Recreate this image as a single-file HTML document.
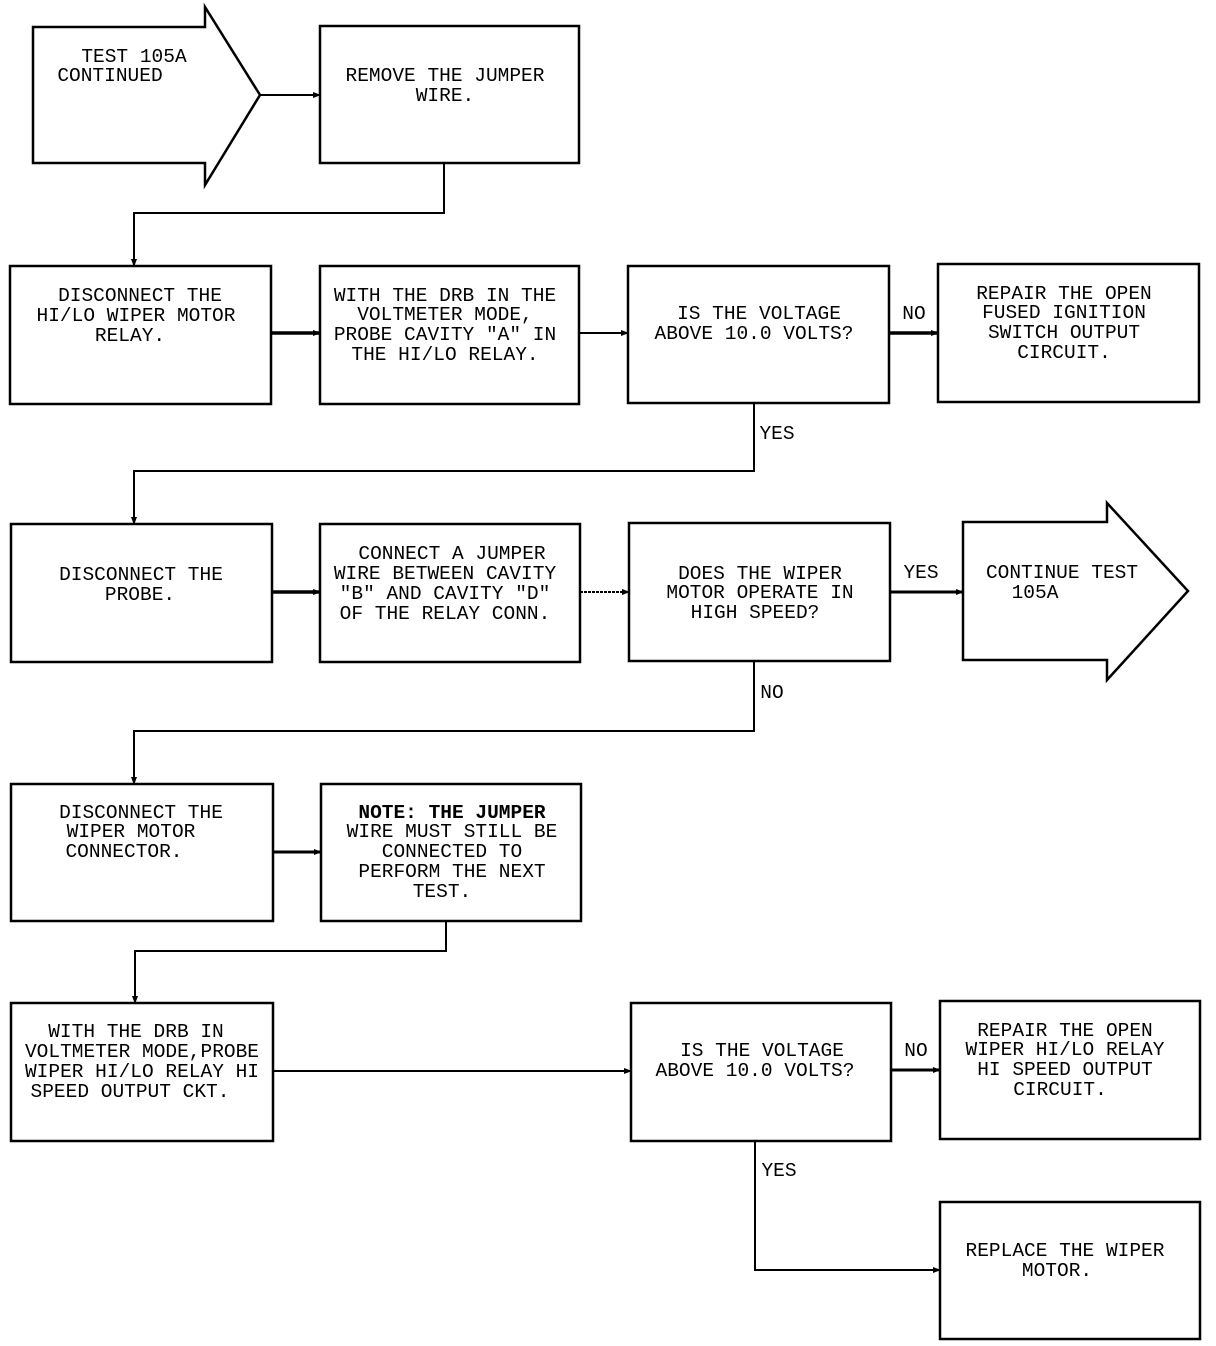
<!DOCTYPE html>
<html><head><meta charset="utf-8"><style>
html,body{margin:0;padding:0;background:#fff}
svg{display:block}
text{font-family:"Liberation Mono",monospace;font-size:19.5px;fill:#000;text-anchor:middle}
.l{text-anchor:start}
</style></head><body>
<svg width="1216" height="1346" viewBox="0 0 1216 1346" xmlns="http://www.w3.org/2000/svg">
<defs><marker id="a" markerWidth="8" markerHeight="8" refX="7" refY="4" orient="auto" markerUnits="userSpaceOnUse"><path d="M0,1 L8,4 L0,7 z" fill="#000"/></marker></defs>
<g fill="none" stroke="#000" stroke-width="2.5">
<path d="M33,27 H205 V7 L260,95 L205,185 V163 H33 Z"/>
<rect x="320" y="26" width="259" height="137"/>
<rect x="10" y="266" width="261" height="138"/>
<rect x="320" y="266" width="259" height="138"/>
<rect x="628" y="266" width="261" height="137"/>
<rect x="938" y="264" width="261" height="138"/>
<rect x="11" y="524" width="261" height="138"/>
<rect x="320" y="524" width="260" height="138"/>
<rect x="629" y="523" width="261" height="138"/>
<path d="M963,522 H1107 V503 L1188,591 L1107,680 V660 H963 Z"/>
<rect x="11" y="784" width="262" height="137"/>
<rect x="321" y="784" width="260" height="137"/>
<rect x="11" y="1003" width="262" height="138"/>
<rect x="631" y="1003" width="260" height="138"/>
<rect x="940" y="1001" width="260" height="138"/>
<rect x="940" y="1202" width="260" height="137"/>
</g>
<g fill="none" stroke="#000" stroke-width="2" marker-end="url(#a)">
<path d="M260,95 H320"/>
<path d="M444,163 V213 H134 V266"/>
<path d="M271,333 H320" stroke-width="3.5"/>
<path d="M579,333 H628"/>
<path d="M889,333 H938" stroke-width="3.5"/>
<path d="M754,404 V471 H134 V524"/>
<path d="M272,592 H320" stroke-width="3.5"/>
<path d="M580,592 H629" stroke-dasharray="3,1"/>
<path d="M890,592 H963" stroke-width="3"/>
<path d="M754,662 V731 H134 V784"/>
<path d="M273,852 H321" stroke-width="3"/>
<path d="M446,921 V951 H135 V1003"/>
<path d="M273,1071 H631"/>
<path d="M891,1070 H940" stroke-width="3"/>
<path d="M755,1141 V1270 H940"/>
</g>
<text x="134" y="62">TEST 105A</text>
<text x="110" y="81">CONTINUED</text>
<text x="445" y="81">REMOVE THE JUMPER</text>
<text x="445" y="101">WIRE.</text>
<text x="140" y="301">DISCONNECT THE</text>
<text x="136" y="321">HI/LO WIPER MOTOR</text>
<text x="130" y="341">RELAY.</text>
<text x="445" y="301">WITH THE DRB IN THE</text>
<text x="445" y="320">VOLTMETER MODE,</text>
<text x="445" y="340">PROBE CAVITY "A" IN</text>
<text x="445" y="360">THE HI/LO RELAY.</text>
<text x="759" y="319">IS THE VOLTAGE</text>
<text x="754" y="339">ABOVE 10.0 VOLTS?</text>
<text x="1064" y="299">REPAIR THE OPEN</text>
<text x="1064" y="318">FUSED IGNITION</text>
<text x="1064" y="338">SWITCH OUTPUT</text>
<text x="1064" y="358">CIRCUIT.</text>
<text x="914" y="319">NO</text>
<text x="777" y="439">YES</text>
<text x="141" y="580">DISCONNECT THE</text>
<text x="140" y="600">PROBE.</text>
<text x="452" y="559">CONNECT A JUMPER</text>
<text x="445" y="579">WIRE BETWEEN CAVITY</text>
<text x="445" y="599">"B" AND CAVITY "D"</text>
<text x="445" y="619">OF THE RELAY CONN.</text>
<text x="760" y="579">DOES THE WIPER</text>
<text x="760" y="598">MOTOR OPERATE IN</text>
<text x="755" y="618">HIGH SPEED?</text>
<text x="1062" y="578">CONTINUE TEST</text>
<text x="1035" y="598">105A</text>
<text x="921" y="578">YES</text>
<text x="772" y="698">NO</text>
<text x="141" y="818">DISCONNECT THE</text>
<text x="131" y="837">WIPER MOTOR</text>
<text x="124" y="857">CONNECTOR.</text>
<text x="452" y="818" font-weight="bold">NOTE: THE JUMPER</text>
<text x="452" y="837">WIRE MUST STILL BE</text>
<text x="452" y="857">CONNECTED TO</text>
<text x="452" y="877">PERFORM THE NEXT</text>
<text x="442" y="897">TEST.</text>
<text x="136" y="1037">WITH THE DRB IN</text>
<text x="142" y="1057">VOLTMETER MODE,PROBE</text>
<text x="142" y="1077">WIPER HI/LO RELAY HI</text>
<text x="130" y="1097">SPEED OUTPUT CKT.</text>
<text x="762" y="1056">IS THE VOLTAGE</text>
<text x="755" y="1076">ABOVE 10.0 VOLTS?</text>
<text x="916" y="1056">NO</text>
<text x="1065" y="1036">REPAIR THE OPEN</text>
<text x="1065" y="1055">WIPER HI/LO RELAY</text>
<text x="1065" y="1075">HI SPEED OUTPUT</text>
<text x="1060" y="1095">CIRCUIT.</text>
<text x="779" y="1176">YES</text>
<text x="1065" y="1256">REPLACE THE WIPER</text>
<text x="1057" y="1276">MOTOR.</text>
</svg>
</body></html>
